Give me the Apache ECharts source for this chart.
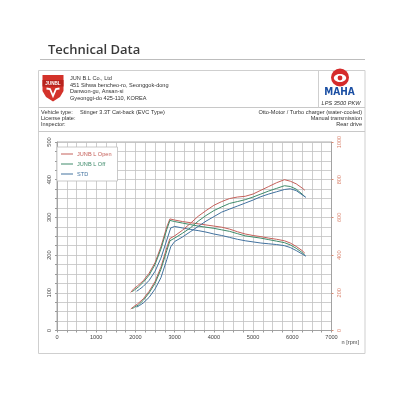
<!DOCTYPE html>
<html>
<head>
	<meta charset="utf-8">
	<title>Technical Data</title>
	<style type="text/css">
		body{
			margin: 0px;
			background: #fff;
		}
		.chart{
			width: 400px;
			height: 400px;
		}
	</style>
	<script type="text/javascript" src="https://cdn.jsdelivr.net/npm/echarts@6/dist/echarts.min.js"></script>
</head>
<body>
	<div id="chart" class="chart"></div>
	<script type="text/javascript">
		var xTicks = [0, 1000, 2000, 3000, 4000, 5000, 6000, 7000];
		var names = ['JUNB L Open', 'JUNB L Off', 'STD'];
		var colors = ['#c5605a', '#3f8b6b', '#42729f'];

		// JUNB L Open
		var rpmOpen = [1880, 1950, 2050, 2200, 2350, 2500, 2650, 2800, 2880, 3000, 3200, 3400, 3600, 3800, 4000, 4200, 4400, 4600, 4800, 5000, 5200, 5400, 5600, 5800, 5950, 6100, 6250, 6320];
		var powerOpen = [57, 63, 70, 84, 104, 130, 168, 220, 244, 251, 266, 284, 303, 318, 332, 342, 350, 354, 356, 362, 372, 382, 392, 400, 396, 389, 378, 372];
		var torqueOpen = [202, 220, 236, 264, 304, 360, 444, 550, 592, 586, 578, 572, 566, 560, 554, 548, 538, 524, 512, 504, 498, 490, 484, 476, 464, 446, 424, 410];

		// JUNB L Off
		var rpmOff = [1920, 1980, 2080, 2200, 2350, 2500, 2650, 2800, 2880, 3000, 3200, 3400, 3600, 3800, 4000, 4200, 4400, 4600, 4800, 5000, 5200, 5400, 5600, 5800, 5950, 6100, 6250, 6320];
		var powerOff = [58, 62, 68, 80, 100, 125, 162, 212, 238, 245, 258, 272, 290, 305, 318, 328, 337, 342, 347, 354, 362, 370, 377, 384, 382, 375, 362, 355];
		var torqueOff = [206, 216, 232, 256, 294, 350, 432, 536, 584, 578, 570, 562, 554, 548, 542, 534, 526, 514, 502, 496, 490, 482, 474, 466, 454, 436, 414, 400];

		// STD
		var rpmStd = [2030, 2100, 2200, 2350, 2500, 2650, 2800, 2900, 3000, 3200, 3400, 3600, 3800, 4000, 4200, 4400, 4600, 4800, 5000, 5200, 5400, 5600, 5800, 5950, 6100, 6250, 6350];
		var powerStd = [62, 66, 73, 88, 110, 140, 188, 222, 236, 248, 262, 276, 290, 302, 314, 322, 330, 338, 346, 355, 362, 368, 374, 376, 371, 360, 353];
		var torqueStd = [208, 218, 234, 266, 314, 384, 480, 544, 552, 544, 536, 530, 522, 512, 504, 494, 484, 476, 470, 464, 460, 456, 450, 440, 424, 406, 394];

		function pairs(xs, ys){
			var out = [];
			for(var i = 0; i < xs.length; i++){
				out.push([xs[i], ys[i]]);
			}
			return out;
		}

		function curve(i, rpm, vals, axis){
			return {
				name: names[i],
				type: 'line',
				yAxisIndex: axis,
				symbol: 'none',
				showSymbol: false,
				lineStyle: {color: colors[i], width: 1},
				itemStyle: {color: colors[i]},
				data: pairs(rpm, vals)
			};
		}

		var small = '5.6px "Liberation Sans"';
		function txt(x, y, s, align, font, color){
			return {
				type: 'text', x: x, y: y, silent: true,
				style: {
					text: s, font: font || small, fill: color || '#333',
					textAlign: align || 'left', textVerticalAlign: 'middle',
					align: align || 'left', verticalAlign: 'middle'
				}
			};
		}
		function hline(x1, x2, y, c){
			return {type: 'line', silent: true, shape: {x1: x1, y1: y, x2: x2, y2: y}, style: {stroke: c || '#c8c8c8', lineWidth: 1}};
		}

		var gridColor = '#c2c2c2';
		window.onload = function(){
			var chart = echarts.init(document.getElementById('chart'));
			chart.setOption({
				animation: false,
				backgroundColor: '#fff',
				grid: {
					left: 57, right: 68.5, top: 142, bottom: 69.5,
					show: true, borderColor: '#9a9a9a', borderWidth: 0.8
				},
				legend: {
					orient: 'vertical',
					left: 57, top: 147,
					icon: 'rect',
					itemWidth: 12, itemHeight: 1, itemGap: 4,
					padding: [4, 6, 4, 4],
					backgroundColor: '#fff',
					borderColor: '#bdbdbd', borderWidth: 0.8,
					textStyle: {fontSize: 5.6, fontFamily: 'Liberation Sans', padding: [0, 0, 0, -1]},
					data: names.map(function(n, i){
						return {name: n, textStyle: {color: colors[i]}};
					})
				},
				xAxis: {
					type: 'value', min: 0, max: 7000, interval: 1000,
					name: 'n [rpm]', nameLocation: 'end', nameGap: 6,
					nameTextStyle: {fontSize: 5.6, fontFamily: 'Liberation Sans', color: '#444', verticalAlign: 'top', padding: [9, 0, 0, 0]},
					axisLine: {lineStyle: {color: '#9a9a9a', width: 0.8}},
					axisTick: {show: true, length: 2, lineStyle: {color: '#9a9a9a'}},
					minorTick: {show: true, splitNumber: 4, length: 2, lineStyle: {color: '#9a9a9a'}},
					splitLine: {lineStyle: {color: gridColor, width: 0.8}},
					minorSplitLine: {show: true, lineStyle: {color: gridColor, width: 0.8}},
					axisLabel: {fontSize: 5.6, fontFamily: 'Liberation Sans', color: '#444', margin: 4,
						formatter: function(v){ return xTicks.indexOf(v) >= 0 ? String(v) : ''; }}
				},
				yAxis: [{
					type: 'value', min: 0, max: 500, interval: 100,
					axisLine: {show: true, lineStyle: {color: '#9a9a9a', width: 0.8}},
					axisTick: {show: true, length: 2, lineStyle: {color: '#9a9a9a'}},
					minorTick: {show: true, splitNumber: 4, length: 2, lineStyle: {color: '#9a9a9a'}},
					splitLine: {lineStyle: {color: gridColor, width: 0.8}},
					minorSplitLine: {show: true, lineStyle: {color: gridColor, width: 0.8}},
					axisLabel: {fontSize: 5.6, fontFamily: 'Liberation Sans', color: '#444', rotate: 90, margin: 5}
				}, {
					type: 'value', min: 0, max: 1000, interval: 200, position: 'right',
					axisLine: {show: true, lineStyle: {color: '#9a9a9a', width: 0.8}},
					axisTick: {show: true, length: 2, lineStyle: {color: '#d98a72'}},
					splitLine: {show: false},
					axisLabel: {fontSize: 5.6, fontFamily: 'Liberation Sans', color: '#d9806a', rotate: 90, margin: 5,
						formatter: function(v){ return String(v); }}
				}],
				graphic: [
					txt(48, 50.5, 'Technical Data', 'left', '600 13px "Open Sans"', '#3a3a3a'),
					hline(40, 365, 59.5, '#bdbdbd'),
					{type: 'rect', silent: true, shape: {x: 38.5, y: 70.5, width: 326.5, height: 283}, style: {fill: 'none', stroke: '#cfcfcf', lineWidth: 1}},
					hline(38.5, 365, 107.5),
					hline(38.5, 365, 131.5),
					{type: 'line', silent: true, shape: {x1: 318.5, y1: 70.5, x2: 318.5, y2: 107.5}, style: {stroke: '#cfcfcf', lineWidth: 1}},
					// JUNBL shield
					{type: 'polygon', silent: true, shape: {points: [[42.5, 75], [63.5, 75], [63.5, 91], [60, 97], [53, 101.5], [46, 97], [42.5, 91]]}, style: {fill: '#d3322a'}},
					{type: 'rect', silent: true, shape: {x: 42.5, y: 80, width: 21, height: 6.5}, style: {fill: '#b8231d'}},
					txt(53, 83.3, 'JUNBL', 'center', 'bold 4.6px "Liberation Sans"', '#fff'),
					{type: 'polyline', silent: true, shape: {points: [[46.5, 88.5], [50, 89], [53, 96], [56, 89], [59.5, 88.5]]}, style: {stroke: '#fff', lineWidth: 1.8, fill: null}},
					txt(70, 78.5, 'JUN B.L Co., Ltd'),
					txt(70, 85, '451 Sihwa bencheo-ro, Seonggok-dong'),
					txt(70, 91.5, 'Danwon-gu, Ansan-si'),
					txt(70, 98, 'Gyeonggi-do 425-110, KOREA'),
					// MAHA badge
					{type: 'circle', silent: true, shape: {cx: 340, cy: 77.5, r: 9}, style: {fill: '#d52b2b'}},
					{type: 'ellipse', silent: true, shape: {cx: 340, cy: 78, rx: 6.2, ry: 4}, style: {fill: '#fff'}},
					{type: 'circle', silent: true, shape: {cx: 340, cy: 78, r: 2.4}, style: {fill: '#d52b2b'}},
					txt(339.5, 92, 'MAHA', 'center', 'bold 10px "DejaVu Sans Condensed"', '#1b4fa3'),
					txt(341, 103, 'LPS 3500 PKW', 'center', 'italic 5.6px "Liberation Sans"', '#333'),
					// vehicle info
					txt(41, 112.5, 'Vehicle type:'),
					txt(80, 112.5, 'Stinger 3.3T Cat-back (EVC Type)'),
					txt(41, 118.5, 'License plate:'),
					txt(41, 124.5, 'Inspector:'),
					txt(362, 112.5, 'Otto-Motor / Turbo charger (water-cooled)', 'right'),
					txt(362, 118.5, 'Manual transmission', 'right'),
					txt(362, 124.5, 'Rear drive', 'right')
				],
				series: [
					curve(0, rpmOpen, torqueOpen, 1),
					curve(1, rpmOff, torqueOff, 1),
					curve(2, rpmStd, torqueStd, 1),
					curve(0, rpmOpen, powerOpen, 0),
					curve(1, rpmOff, powerOff, 0),
					curve(2, rpmStd, powerStd, 0)
				]
			});
		};
	</script>
</body>
</html>
